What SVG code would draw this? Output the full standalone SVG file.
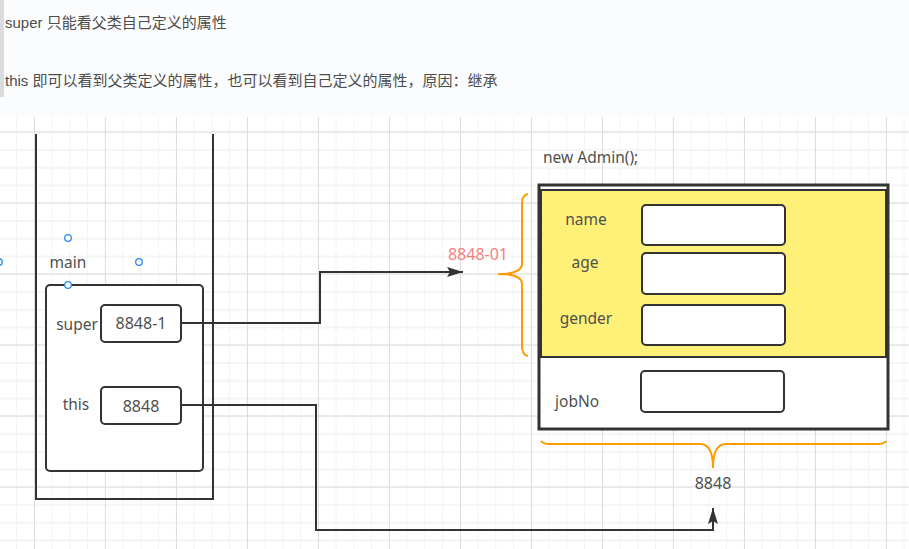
<svg xmlns="http://www.w3.org/2000/svg" width="909" height="549" viewBox="0 0 909 549">
<defs>
<pattern id="gminor" patternUnits="userSpaceOnUse" x="-0.75" y="0" width="17.75" height="17.75">
<rect x="0" y="0" width="17.75" height="17.75" fill="#ffffff"/>
<rect x="17.25" y="0" width="1" height="17.75" fill="#ebebeb"/>
<rect x="0" y="7.5" width="17.75" height="1" fill="#ebebeb"/>
</pattern>
<pattern id="gmajor" patternUnits="userSpaceOnUse" x="34" y="131.5" width="71" height="71">
<rect x="0" y="0" width="1" height="71" fill="#dedede"/>
<rect x="0" y="0" width="71" height="1" fill="#dedede"/>
</pattern>
<marker id="arr" viewBox="0 0 16 10" refX="16" refY="5" markerWidth="16" markerHeight="10" markerUnits="userSpaceOnUse" orient="auto">
<path d="M0,0 L16,5 L0,10 L3,5 Z" fill="#333"/>
</marker>
<style>
.hdr{font-family:"Liberation Sans","Noto Sans CJK SC",sans-serif;font-size:15px;fill:#4d4d4d}
.lbl{font-family:"Noto Sans","Noto Sans CJK SC",sans-serif;font-size:15.5px;fill:#505050}
.val{font-family:"Noto Sans",sans-serif;font-size:16px;fill:#505050;text-anchor:middle}
.box{fill:#fff;stroke:#333;stroke-width:2}
.line{fill:none;stroke:#333;stroke-width:2}
.conn{fill:none;stroke:#333;stroke-width:2}
.brace{fill:none;stroke:#ff9a00;stroke-width:2}
.handle{fill:#fff;stroke:#2a8cf0;stroke-width:1.3}
</style>
</defs>
<rect x="0" y="0" width="909" height="117" fill="#fbfcfd"/>
<rect x="0" y="117" width="909" height="432" fill="url(#gminor)"/>
<rect x="0" y="117" width="909" height="432" fill="url(#gmajor)"/>
<rect x="0" y="0" width="4" height="97" fill="#dcdcdc"/>
<text class="hdr" x="5" y="28">super 只能看父类自己定义的属性</text>
<text class="hdr" x="5" y="86">this 即可以看到父类定义的属性，也可以看到自己定义的属性，原因：继承</text>

<g id="stack">
<path class="line" d="M36,134 L36,499 L213,499 L213,134"/>
</g>
<g id="main">
<rect class="box" x="46" y="285" width="157" height="186" rx="4"/>
<text class="lbl" x="68" y="268" text-anchor="middle">main</text>
<circle class="handle" cx="68" cy="238" r="3.3"/>
<circle class="handle" cx="139" cy="262" r="3.3"/>
<circle class="handle" cx="68" cy="285" r="3.3"/>
<circle class="handle" cx="-1" cy="262" r="3.3"/>
</g>
<g id="super">
<text class="lbl" x="77" y="330" text-anchor="middle">super</text>
<rect class="box" x="101" y="305" width="80" height="37" rx="4"/>
<text class="val" x="141" y="329">8848-1</text>
</g>
<g id="this">
<text class="lbl" x="76" y="410" text-anchor="middle">this</text>
<rect class="box" x="101" y="387" width="80" height="37" rx="4"/>
<text class="val" x="141" y="412">8848</text>
</g>

<g id="connectors">
<path class="conn" d="M181,323 L320,323 L320,272 L463,272" marker-end="url(#arr)"/>
<path class="conn" d="M181,405 L316,405 L316,530 L713,530 L713,508" marker-end="url(#arr)"/>
</g>

<g id="object">
<text class="lbl" x="543" y="163">new Admin();</text>
<rect x="539" y="185" width="349" height="244" fill="#fff" stroke="#333" stroke-width="3"/>
<rect x="541" y="190" width="345" height="167" fill="#fff078" stroke="#333" stroke-width="2"/>
<text class="lbl" x="586" y="225" text-anchor="middle">name</text>
<rect class="box" x="642" y="205" width="143" height="40" rx="4"/>
<text class="lbl" x="585" y="268" text-anchor="middle">age</text>
<rect class="box" x="642" y="253" width="143" height="41" rx="4"/>
<text class="lbl" x="586" y="324" text-anchor="middle">gender</text>
<rect class="box" x="642" y="305" width="143" height="40" rx="4"/>
<text class="lbl" x="555" y="407">jobNo</text>
<rect class="box" x="641" y="371" width="143" height="41" rx="4"/>
</g>

<g id="brace-left">
<path class="brace" d="M528,194 Q522,195 522,203 L522,264 Q522,274 498,274 Q522,274 522,284 L522,346 Q522,355 528,356"/>
<text x="478" y="260" font-family="Noto Sans, sans-serif" font-size="16" fill="#f47f7f" text-anchor="middle">8848-01</text>
</g>
<g id="brace-bottom">
<path class="brace" d="M541,441 Q543,444 550,444 L700,444 Q713,444 713,468 Q713,444 726,444 L878,444 Q884,444 886,441"/>
<text class="val" x="713" y="489">8848</text>
</g>
</svg>
